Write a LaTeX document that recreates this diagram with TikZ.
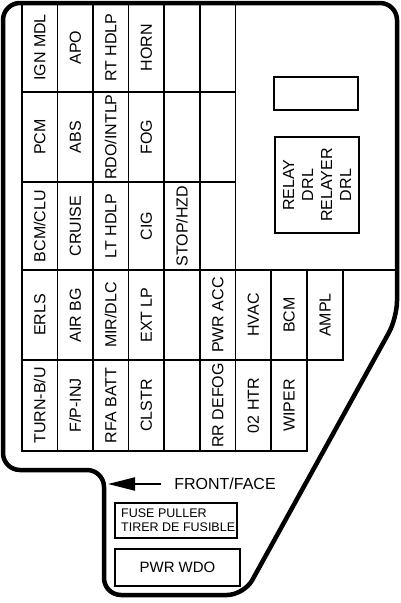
\documentclass[tikz,border=0pt]{standalone}
\usepackage{fontspec}
\setmainfont{Liberation Sans}
\usetikzlibrary{arrows.meta}
\newcommand\FuseCell[6]{\node[cell, minimum width={(#4)-(#2)}, minimum height={(#5)-(#3)}] (#1) at ({((#2)+(#4))/2},{((#3)+(#5))/2}) {\rotatebox{90}{#6}};}
\begin{document}
\begin{tikzpicture}[x=1pt,y=-1pt,
  cell/.style={draw, line width=1.6pt, inner sep=0pt, outer sep=0pt, font=\fontsize{16}{18}\selectfont},
  box/.style={draw, line width=1.6pt, inner sep=0pt, outer sep=0pt},
  outline/.style={line width=4.5pt, rounded corners=17pt, line join=round},
  gridline/.style={line width=1.6pt}]
\useasboundingbox (0,0) rectangle (400,603);
% columns 22,57.5,93,128.5,164,200,235.5,271,307,343 ; rows 3,92,182,270,360,451
% row 1
\FuseCell{c11}{22}{3}{57.5}{92}{IGN MDL}
\FuseCell{c12}{57.5}{3}{93}{92}{APO}
\FuseCell{c13}{93}{3}{128.5}{92}{RT HDLP}
\FuseCell{c14}{128.5}{3}{164}{92}{HORN}
\FuseCell{c15}{164}{3}{200}{92}{}
\FuseCell{c16}{200}{3}{235.5}{92}{}
% row 2
\FuseCell{c21}{22}{92}{57.5}{182}{PCM}
\FuseCell{c22}{57.5}{92}{93}{182}{ABS}
\FuseCell{c23}{93}{92}{128.5}{182}{RDO/INTLP}
\FuseCell{c24}{128.5}{92}{164}{182}{FOG}
\FuseCell{c25}{164}{92}{200}{182}{}
\FuseCell{c26}{200}{92}{235.5}{182}{}
% row 3
\FuseCell{c31}{22}{182}{57.5}{270}{BCM/CLU}
\FuseCell{c32}{57.5}{182}{93}{270}{CRUISE}
\FuseCell{c33}{93}{182}{128.5}{270}{LT HDLP}
\FuseCell{c34}{128.5}{182}{164}{270}{CIG}
\FuseCell{c35}{164}{182}{200}{270}{STOP/HZD}
\FuseCell{c36}{200}{182}{235.5}{270}{}
% row 4
\FuseCell{c41}{22}{270}{57.5}{360}{ERLS}
\FuseCell{c42}{57.5}{270}{93}{360}{AIR BG}
\FuseCell{c43}{93}{270}{128.5}{360}{MIR/DLC}
\FuseCell{c44}{128.5}{270}{164}{360}{EXT LP}
\FuseCell{c45}{164}{270}{200}{360}{}
\FuseCell{c46}{200}{270}{235.5}{360}{PWR ACC}
\FuseCell{c47}{235.5}{270}{271}{360}{HVAC}
\FuseCell{c48}{271}{270}{307}{360}{BCM}
\FuseCell{c49}{307}{270}{343}{360}{AMPL}
% row 5
\FuseCell{c51}{22}{360}{57.5}{451}{TURN-B/U}
\FuseCell{c52}{57.5}{360}{93}{451}{F/P-INJ}
\FuseCell{c53}{93}{360}{128.5}{451}{RFA BATT}
\FuseCell{c54}{128.5}{360}{164}{451}{CLSTR}
\FuseCell{c55}{164}{360}{200}{451}{}
\FuseCell{c56}{200}{360}{235.5}{451}{RR DEFOG}
\FuseCell{c57}{235.5}{360}{271}{451}{02 HTR}
\FuseCell{c58}{271}{360}{307}{451}{WIPER}
% line from AMPL to the right wall
\coordinate (rwall) at (397,270);
\draw[gridline] (c49.north east) -- (rwall);
% relays
\node[box, minimum width=84pt, minimum height=33pt] (spare) at (316,93.5) {};
\node[box, minimum width=84pt, minimum height=96pt] (relay) at (317,185) {};
\node[rotate=90, align=center, inner sep=0pt, font=\fontsize{16}{19}\selectfont] (relaytxt) at (relay.center) {RELAY\\DRL\\RELAYER\\DRL};
% front arrow
\node[inner sep=0pt, font=\fontsize{16}{18}\selectfont] (front) at (225,484) {FRONT/FACE};
\coordinate (fronttip) at (108,484);
\draw[line width=2pt, -{Triangle[length=27pt,width=13pt]}] ([xshift=-13pt]front.west) -- (fronttip);
% fuse puller
\node[box, minimum width=122pt, minimum height=35pt] (puller) at (176,520.5) {};
\node[anchor=west, align=left, inner sep=0pt, font=\fontsize{12.5}{14}\selectfont] (pullertxt) at ([xshift=6pt]puller.west) {FUSE PULLER\\TIRER DE FUSIBLE};
% pwr wdo
\node[box, minimum width=125pt, minimum height=37pt, font=\fontsize{15}{18}\selectfont] (pwrwdo) at (177.5,567.5) {PWR WDO};
% outline
\draw[outline] (200,3) -- (397,3) -- (397,318) -- (244,595) -- (104,595) -- (104,470) -- (3,470) -- (3,3) -- cycle;
\end{tikzpicture}
\end{document}
